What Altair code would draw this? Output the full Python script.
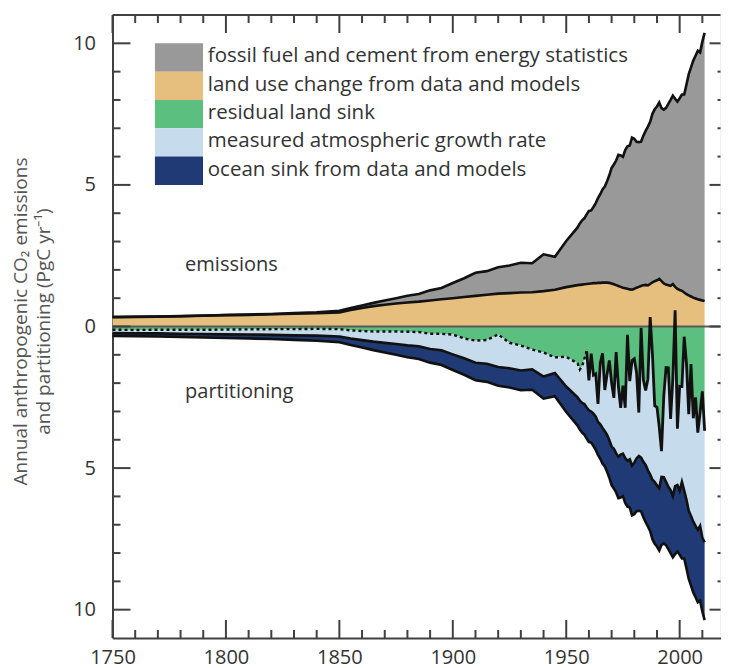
import altair as alt
import pandas as pd

# ---------------- data (PgC per year) ----------------
YEARS = list(range(1750, 1851, 10)) + list(range(1855, 1956, 5)) + list(range(1956, 2012))

FOSSIL = [
    0.003, 0.003, 0.004, 0.005, 0.007, 0.008, 0.011, 0.014, 0.024, 0.033, 0.054,
    0.075, 0.091, 0.114, 0.147, 0.188, 0.236, 0.265, 0.356, 0.400, 0.534, 0.663,
    0.819, 0.836, 0.932, 0.975, 1.053, 1.025, 1.299, 1.160, 1.630, 2.040,
    2.17, 2.27, 2.33, 2.46, 2.57, 2.58, 2.69, 2.83, 2.99, 3.13,
    3.29, 3.39, 3.58, 3.80, 4.08, 4.23, 4.40, 4.63, 4.64, 4.62,
    4.88, 5.03, 5.08, 5.37, 5.30, 5.15, 5.11, 5.10, 5.28, 5.44,
    5.61, 5.73, 5.95, 6.07, 6.14, 6.23, 6.11, 6.14, 6.24, 6.40,
    6.56, 6.65, 6.64, 6.61, 6.77, 6.93, 6.99, 7.40, 7.81, 8.09,
    8.37, 8.57, 8.78, 8.74, 9.14, 9.47,
]

LAND_USE = [
    0.33, 0.34, 0.35, 0.36, 0.38, 0.40, 0.41, 0.43, 0.45, 0.47, 0.50,
    0.58, 0.65, 0.72, 0.77, 0.81, 0.85, 0.88, 0.92, 0.96, 1.00, 1.04,
    1.08, 1.12, 1.16, 1.18, 1.20, 1.21, 1.25, 1.30, 1.39, 1.46,
    1.47, 1.48, 1.49, 1.50, 1.51, 1.52, 1.53, 1.53, 1.54, 1.54,
    1.55, 1.55, 1.55, 1.54, 1.52, 1.49, 1.46, 1.43, 1.40, 1.37,
    1.35, 1.33, 1.31, 1.30, 1.33, 1.37, 1.40, 1.43, 1.46, 1.47,
    1.45, 1.50, 1.56, 1.60, 1.63, 1.68, 1.60, 1.52, 1.48, 1.46,
    1.44, 1.50, 1.40, 1.33, 1.29, 1.26, 1.20, 1.14, 1.10, 1.06,
    1.02, 0.99, 0.96, 0.94, 0.92, 0.90,
]

OCEAN = [
    0.10, 0.10, 0.11, 0.11, 0.12, 0.13, 0.14, 0.15, 0.16, 0.18, 0.20,
    0.23, 0.26, 0.30, 0.34, 0.38, 0.42, 0.45, 0.48, 0.52, 0.55, 0.58,
    0.62, 0.64, 0.66, 0.68, 0.70, 0.72, 0.78, 0.82, 0.90, 1.00,
    1.02, 1.05, 1.08, 1.10, 1.12, 1.10, 1.14, 1.18, 1.16, 1.22,
    1.26, 1.24, 1.30, 1.32, 1.36, 1.40, 1.38, 1.46, 1.52, 1.50,
    1.58, 1.62, 1.70, 1.76, 1.82, 1.86, 1.94, 1.90, 1.96, 2.02,
    1.98, 2.00, 2.10, 2.18, 2.16, 2.20, 2.40, 2.34, 2.24, 2.20,
    2.22, 2.16, 2.40, 2.34, 2.26, 2.70, 2.40, 2.42, 2.40, 2.46,
    2.50, 2.52, 2.56, 2.64, 2.60, 2.75,
]

ATMOSPHERE = [
    0.12, 0.12, 0.13, 0.14, 0.15, 0.17, 0.18, 0.20, 0.22, 0.24, 0.26,
    0.29, 0.32, 0.36, 0.40, 0.44, 0.48, 0.50, 0.54, 0.58, 0.70, 0.70,
    0.78, 0.84, 1.15, 0.90, 0.88, 0.70, 0.85, 0.55, 1.05, 1.20,
    1.10, 1.30, 1.60, 1.99, 1.06, 2.04, 1.36, 1.51, 0.64, 2.16,
    2.63, 1.46, 2.14, 2.82, 2.25, 1.80, 3.58, 2.48, 1.65, 2.40,
    1.78, 4.45, 2.76, 3.71, 3.67, 3.03, 1.53, 4.58, 2.90, 2.63,
    3.22, 5.56, 4.43, 2.69, 2.76, 2.16, 0.91, 2.86, 4.03, 4.20,
    2.52, 4.16, 6.21, 1.99, 3.69, 3.37, 5.43, 4.81, 3.41, 5.36,
    3.65, 4.54, 3.43, 3.99, 5.17, 3.94,
]

LEGEND_LABELS = [
    "fossil fuel and cement from energy statistics",
    "land use change from data and models",
    "residual land sink",
    "measured atmospheric growth rate",
    "ocean sink from data and models",
]
LEGEND_COLORS = ["#999999", "#e6be7e", "#5abf7f", "#c6dbeb", "#1f3a74"]

X_LABELS = [1750, 1800, 1850, 1900, 1950, 2000]
Y_LABELS = [-10, -5, 0, 5, 10]
Y_TITLE = ["Annual anthropogenic CO\u2082 emissions", "and partitioning (PgC yr\u207b\u00b9)"]

# ---------------- derived table ----------------
df = pd.DataFrame({"year": YEARS, "ff": FOSSIL, "luc": LAND_USE,
                   "ocean": OCEAN, "atm": ATMOSPHERE})
df["land"] = df.ff + df.luc - df.atm - df.ocean      # residual land sink
df["zero"] = 0.0
df["luc_top"] = df.luc
df["ff_top"] = df.luc + df.ff
df["a"] = -df.land
df["b"] = -(df.land + df.atm)
df["c"] = -(df.ff + df.luc)

leg = pd.DataFrame({"label": LEGEND_LABELS, "color": LEGEND_COLORS,
                    "row": list(range(len(LEGEND_LABELS)))})

minor_x = [y for y in range(1760, 2019, 10) if y % 50 != 0]
major_x = [y for y in range(1750, 2019, 50)]
minor_y = [v for v in range(-10, 11) if v % 5 != 0]
major_y = Y_LABELS
tx_minor = pd.DataFrame({"year": minor_x})
tx_major = pd.DataFrame({"year": major_x})
ty_minor = pd.DataFrame({"v": minor_y})
ty_major = pd.DataFrame({"v": major_y})

# ---------------- geometry / style ----------------
W, H = 608, 623
FONT = "Open Sans"
AX = "#404040"
TXT = "#333333"

xs = alt.Scale(domain=[1750, 2018], nice=False, zero=False)
ys = alt.Scale(domain=[-11, 11], nice=False, zero=False)

xaxis = alt.Axis(values=X_LABELS, format="d", title=None, grid=False,
                 ticks=False, tickSize=0, labelPadding=9, labelFontSize=20,
                 labelColor=TXT, labelFont=FONT, domainColor=AX, domainWidth=2,
                 labelFlush=False)
yaxis = alt.Axis(values=Y_LABELS, labelExpr="abs(datum.value)", title=Y_TITLE,
                 grid=False, ticks=False, tickSize=0, labelPadding=17,
                 labelFontSize=20, labelColor=TXT, labelFont=FONT,
                 domainColor=AX, domainWidth=2, titleFontSize=19,
                 titleFont=FONT, titleFontWeight="normal", titleColor="#555555",
                 titleAngle=270, titleX=-101, titleY=306, titleAlign="center",
                 titleBaseline="top", titleLineHeight=23)

X = alt.X("year:Q", scale=xs, axis=xaxis)


def Y(field):
    return alt.Y(f"{field}:Q", scale=ys, axis=yaxis)


base = alt.Chart(df)


def band(lo, hi, color):
    return base.mark_area(color=color, opacity=1, interpolate="linear").encode(
        x=X, y=Y(lo), y2=alt.Y2(hi))


def outline(field, width=2.6, dash=None, flt=None):
    kw = dict(color="#111111", strokeWidth=width, interpolate="linear")
    if dash:
        kw["strokeDash"] = dash
    ch = base.mark_line(**kw)
    if flt is not None:
        ch = ch.transform_filter(flt)
    return ch.encode(x=X, y=Y(field))


green = band("zero", "a", LEGEND_COLORS[2])
light = band("a", "b", LEGEND_COLORS[3])
navy = band("b", "c", LEGEND_COLORS[4])
tan = band("zero", "luc_top", LEGEND_COLORS[1])
gray = band("luc_top", "ff_top", LEGEND_COLORS[0])

zero_rule = alt.Chart(pd.DataFrame({"v": [0.0]})).mark_rule(
    color="#5a5a5a", strokeWidth=2).encode(
    y=alt.Y("v:Q", scale=ys, axis=yaxis), x=alt.value(0), x2=alt.value(W))

lines = [
    outline("ff_top"),
    outline("luc_top"),
    outline("a", width=2.4, dash=[3, 3], flt=alt.datum.year <= 1959),
    outline("a", width=2.8, flt=alt.datum.year >= 1959),
    outline("b"),
    outline("c"),
]


# frame ticks (pointing inwards)
def xticks(data, length):
    bot = alt.Chart(data).mark_rule(color=AX, strokeWidth=2).encode(
        x=alt.X("year:Q", scale=xs, axis=xaxis), y=alt.value(H), y2=alt.value(H - length))
    top = alt.Chart(data).mark_rule(color=AX, strokeWidth=2).encode(
        x=alt.X("year:Q", scale=xs, axis=xaxis), y=alt.value(0), y2=alt.value(length))
    return [bot, top]


def yticks(data, length, rlength):
    left = alt.Chart(data).mark_rule(color=AX, strokeWidth=2).encode(
        y=alt.Y("v:Q", scale=ys, axis=yaxis), x=alt.value(0), x2=alt.value(length))
    right = alt.Chart(data).mark_rule(color=AX, strokeWidth=2).encode(
        y=alt.Y("v:Q", scale=ys, axis=yaxis), x=alt.value(W), x2=alt.value(W - rlength))
    return [left, right]


top_line = alt.Chart(pd.DataFrame({"v": [11.0]})).mark_rule(
    color=AX, strokeWidth=2).encode(
    y=alt.Y("v:Q", scale=ys, axis=yaxis), x=alt.value(0), x2=alt.value(W))

ticks = (xticks(tx_minor, 8) + xticks(tx_major, 18)
         + yticks(ty_minor, 8, 3) + yticks(ty_major, 18, 11))

# legend (boxes one y-unit tall, stacked from 10 down to 5)
leg_base = alt.Chart(leg).transform_calculate(
    top="10 - datum.row", bot="9 - datum.row", mid="9.5 - datum.row")
leg_boxes = leg_base.mark_rect().encode(
    x=alt.X(datum=1768.7, scale=xs, axis=xaxis), x2=alt.X2(datum=1789.9),
    y=alt.Y("top:Q", scale=ys, axis=yaxis), y2=alt.Y2("bot:Q"),
    color=alt.Color("color:N", scale=None, legend=None))
leg_text = leg_base.mark_text(align="left", baseline="middle", font=FONT,
                              fontSize=20.5, color=TXT, dy=-1).encode(
    x=alt.X(datum=1792.0, scale=xs, axis=xaxis),
    y=alt.Y("mid:Q", scale=ys, axis=yaxis), text="label:N")

labels = alt.Chart(pd.DataFrame({"t": ["emissions", "partitioning"],
                                 "v": [2.17, -2.31]})).mark_text(
    align="left", baseline="middle", font=FONT, fontSize=20, color=TXT).encode(
    x=alt.X(datum=1782, scale=xs, axis=xaxis),
    y=alt.Y("v:Q", scale=ys, axis=yaxis), text="t:N")

chart = alt.layer(
    green, light, navy, tan, gray, zero_rule, *lines, top_line, *ticks,
    leg_boxes, leg_text, labels,
).properties(
    width=W, height=H,
    autosize=alt.AutoSizeParams(type="none"),
    padding={"left": 104.5, "top": 7, "right": 0, "bottom": 30},
).configure_view(stroke=None).configure(font=FONT)

chart.save("out.html", embed_options={"renderer": "svg", "actions": False})
